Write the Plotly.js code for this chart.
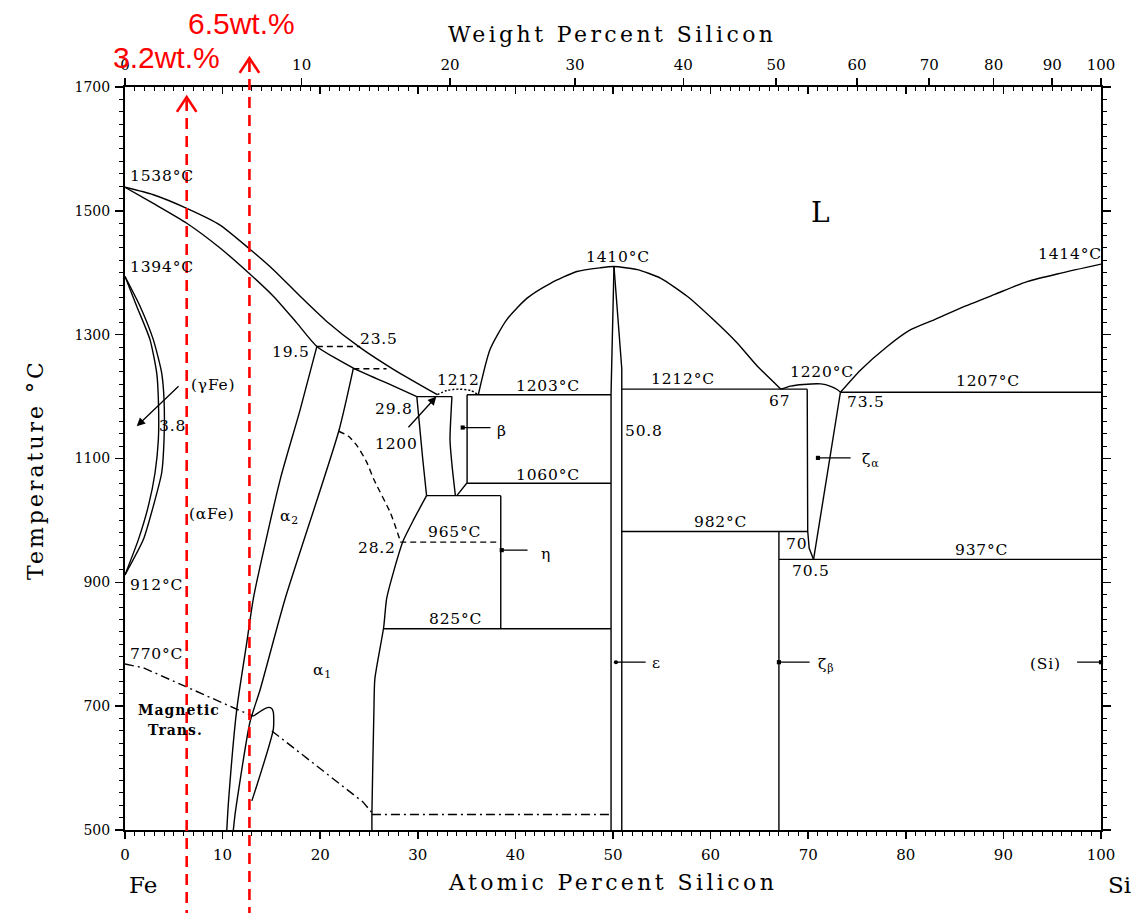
<!DOCTYPE html>
<html><head><meta charset="utf-8">
<script src="https://cdn.plot.ly/plotly-3.0.1.min.js"></script>
<style>body{margin:0;background:#fff}</style>
</head><body>
<div id="chart" style="width:1133px;height:913px"></div>
<script>
// ---------------- data (atomic % Si, temperature °C) ----------------
const liqFeX = [0, 2.9, 6.33, 9.74, 12.65, 15.2, 17.95, 20.7, 24.1, 27.5, 32.0];
const liqFeT = [1538, 1526, 1504, 1477, 1440, 1405, 1362, 1321, 1279, 1244, 1203];
const solFeX = [0, 2.9, 6.33, 9.74, 12.65, 15.2, 17.6, 19.66, 23.4, 26.8, 29.9];
const solFeT = [1538, 1512, 1480, 1440, 1400, 1362, 1319, 1281, 1246, 1222, 1200];
const tie1X = [19.66, 24.1], tie1T = [1281, 1281];
const tie2X = [23.4, 26.8], tie2T = [1245, 1245];
const a2LeftX = [19.66, 17.95, 15.9, 13.2, 12.48, 11.46, 10.6, 10.43];
const a2LeftT = [1281, 1179, 1066, 878, 803, 696, 545, 500];
const a2RightX = [23.4, 21.9, 16.4, 13.85, 12.8, 11.3, 11.1];
const a2RightT = [1246, 1144, 873, 727, 674, 528, 500];
const orderX = [21.9, 22.9, 23.8, 24.8, 25.5, 27.2, 28.2];
const orderT = [1144, 1136, 1120, 1093, 1066, 1012, 967];
const box1200X = [29.9, 33.5], box1200T = [1200, 1200];
const a2EdgeX = [29.9, 30.1, 30.5, 30.9], a2EdgeT = [1200, 1163, 1100, 1040];
const line1040X = [30.9, 38.5], line1040T = [1040, 1040];
const a1EdgeX = [30.9, 29.6, 28.5, 27.5, 26.8, 26.5, 25.6, 25.5, 25.3, 25.3];
const a1EdgeT = [1040, 1002, 967, 916, 873, 827, 744, 690, 528, 500];
const betaLX = [33.5, 33.3, 33.5, 33.85], betaLT = [1200, 1130, 1090, 1040];
const betaRX = [35.05, 35.05, 34.0], betaRT = [1203, 1061, 1040];
const line1203X = [35.05, 49.8], line1203T = [1203, 1203];
const line1060X = [35.05, 49.8], line1060T = [1060, 1060];
const dome1212X = [32.0, 33.0, 34.2, 35.4, 36.2], dome1212T = [1203, 1210, 1212, 1210, 1203];
const etaX = [38.5, 38.5], etaT = [1040, 825];
const line965X = [28.2, 38.5], line965T = [965, 965];
const line825X = [26.5, 49.8], line825T = [825, 825];
const line525X = [25.3, 49.8], line525T = [525, 525];
const feSiLiqX = [36.2, 37.4, 39.1, 41.2, 43.6, 46.3, 48.7, 50.1, 52.5, 54.9, 57.6, 60.3, 62.7, 64.8, 67.2];
const feSiLiqT = [1203, 1276, 1324, 1359, 1383, 1402, 1408, 1410, 1405, 1391, 1362, 1324, 1287, 1249, 1212];
const epsLX = [50.1, 49.8, 49.8], epsLT = [1410, 1205, 500];
const epsRX = [50.1, 50.9, 50.9], epsRT = [1410, 1245, 500];
const line1212X = [50.9, 69.9], line1212T = [1212, 1212];
const zetaALX = [69.9, 69.95, 70.1, 70.55], zetaALT = [1212, 983, 955, 937];
const zetaARX = [73.3, 70.55], zetaART = [1207, 937];
const line982X = [50.9, 69.95], line982T = [982, 982];
const zetaBX = [67.0, 67.0], zetaBT = [982, 500];
const line937X = [67.0, 100], line937T = [937, 937];
const dome1220X = [67.2, 68.2, 69.5, 71.3, 72.3, 73.0, 73.3];
const dome1220T = [1212, 1217, 1219.6, 1220.5, 1216.6, 1211, 1207];
const liqSiX = [73.3, 75.4, 78.1, 80.5, 82.9, 85.6, 89.1, 92.5, 95.9, 100];
const liqSiT = [1207, 1243.5, 1281, 1308, 1324, 1343, 1365, 1386, 1399.5, 1414];
const line1207X = [73.3, 100], line1207T = [1207, 1207];
const gammaT = [1394, 1346, 1292, 1238, 1195, 1131, 1077, 1023, 969, 912];
const gammaOuterX = [0, 1.54, 2.9, 3.76, 4.0, 4.0, 3.76, 2.9, 1.88, 0];
const gammaInnerX = [0, 1.2, 2.56, 3.25, 3.42, 3.42, 3.08, 2.39, 1.37, 0];
const mag1X = [0, 1.88, 11.46, 13.15], mag1T = [768, 762, 695, 684];
const mag2X = [15.05, 24.4, 25.3], mag2T = [660, 545, 528];
const tongueX = [13.15, 14.2, 14.7, 15.05, 15.2, 15.2, 13.0];
const tongueT = [684, 695, 698, 696, 690, 663, 547];

// weight-percent scale (top axis): label and its atomic-% position
const wtTickText = ['0', '10', '20', '30', '40', '50', '60', '70', '80', '90', '100'];
const wtTickAt = [0, 18.1, 33.3, 46.1, 57.2, 66.7, 75.0, 82.4, 89.0, 95.0, 100];

// red composition markers (atomic % for 3.2 and 6.5 wt.%)
const markerLabels = ['3.2wt.%', '6.5wt.%'];
const markerAt = [6.32, 12.75];

// text labels: [text, at%, °C, anchor]
const labels = [
  ['1538°C', 0.3, 1556, 'left'], ['1394°C', 0.3, 1410, 'left'], ['912°C', 0.3, 895, 'left'],
  ['770°C', 0.3, 784, 'left'], ['(γFe)', 9.0, 1219], ['3.8', 4.9, 1152], ['(αFe)', 8.9, 1010],
  ['α<sub>2</sub>', 16.9, 1005], ['α<sub>1</sub>', 20.2, 756], ['19.5', 17.0, 1272],
  ['23.5', 26.0, 1293], ['1212', 34.2, 1227], ['29.8', 27.6, 1180], ['1200', 27.8, 1123],
  ['1203°C', 43.3, 1217], ['1060°C', 43.3, 1074], ['965°C', 33.8, 981], ['28.2', 25.8, 956],
  ['825°C', 33.9, 841], ['1410°C', 50.5, 1425], ['1212°C', 57.2, 1228], ['50.8', 53.2, 1144],
  ['982°C', 61.0, 998], ['67', 67.1, 1193], ['1220°C', 71.4, 1240], ['73.5', 75.9, 1191],
  ['1207°C', 88.4, 1225], ['1414°C', 96.8, 1430], ['70', 68.8, 962], ['70.5', 70.3, 919],
  ['937°C', 87.8, 952], ['ε', 54.5, 769], ['ζ<sub>β</sub>', 71.8, 766], ['(Si)', 94.3, 768],
  ['ζ<sub>α</sub>', 76.4, 1098], ['η', 43.1, 945], ['β', 38.6, 1145]
];
// pointer arrows: [head at%, head °C, tail at%, tail °C, head style]
const pointers = [
  [1.2, 1152, 5.64, 1219, 2], [31.9, 1200, 28.9, 1148, 2],
  [34.6, 1150, 37.6, 1150, 7], [38.6, 952, 41.4, 952, 7],
  [71.0, 1101, 74.5, 1101, 7], [50.3, 771, 53.5, 771, 6],
  [67.0, 771, 70.3, 771, 7], [100, 771, 97.4, 771, 7]
];

// ---------------- drawing ----------------
const traces = [];
function addLine(x, y, dash, spline) {
  traces.push({
    x: x, y: y, type: 'scatter', mode: 'lines', hoverinfo: 'skip',
    line: { color: '#000', width: 1.4, dash: dash || 'solid', shape: spline ? 'spline' : 'linear', smoothing: 0.6 }
  });
}
const DASH = '6px,4px', DASHDOT = '9px,4px,2px,4px', DOT = '2px,2px';
addLine(liqFeX, liqFeT, null, true);
addLine(solFeX, solFeT, null, true);
addLine(tie1X, tie1T, DASH);
addLine(tie2X, tie2T, DASH);
addLine(a2LeftX, a2LeftT, null, true);
addLine(a2RightX, a2RightT, null, true);
addLine(orderX, orderT, DASH, true);
addLine(box1200X, box1200T);
addLine(a2EdgeX, a2EdgeT);
addLine(line1040X, line1040T);
addLine(a1EdgeX, a1EdgeT, null, true);
addLine(betaLX, betaLT, null, true);
addLine(betaRX, betaRT);
addLine(line1203X, line1203T);
addLine(line1060X, line1060T);
addLine(dome1212X, dome1212T, DOT, true);
addLine(etaX, etaT);
addLine(line965X, line965T, DASH);
addLine(line825X, line825T);
addLine(line525X, line525T, DASHDOT);
addLine(feSiLiqX, feSiLiqT, null, true);
addLine(epsLX, epsLT);
addLine(epsRX, epsRT);
addLine(line1212X, line1212T);
addLine(zetaALX, zetaALT);
addLine(zetaARX, zetaART);
addLine(line982X, line982T);
addLine(zetaBX, zetaBT);
addLine(line937X, line937T);
addLine(dome1220X, dome1220T, null, true);
addLine(liqSiX, liqSiT, null, true);
addLine(line1207X, line1207T);
addLine(gammaOuterX, gammaT, null, true);
addLine(gammaInnerX, gammaT, null, true);
addLine(mag1X, mag1T, DASHDOT);
addLine(mag2X, mag2T, DASHDOT);
addLine(tongueX, tongueT, null, true);
// placeholders so the overlaid top axes are drawn
traces.push({ x: [null], y: [null], xaxis: 'x2', type: 'scatter', mode: 'none', hoverinfo: 'skip' });
traces.push({ x: [null], y: [null], xaxis: 'x3', type: 'scatter', mode: 'none', hoverinfo: 'skip' });

const SERIF = 'DejaVu Serif';
function spaced(t, s) { return '<span style="letter-spacing:' + s + 'px">' + t + '</span>'; }
const annotations = [];
labels.forEach(function (l) {
  annotations.push({
    text: spaced(l[0], 0.8), x: l[1], y: l[2], xref: 'x', yref: 'y', showarrow: false,
    xanchor: l[3] || 'center', yanchor: 'middle',
    font: { family: SERIF, size: 15.5, color: '#000' }
  });
});
pointers.forEach(function (p) {
  annotations.push({
    text: '', x: p[0], y: p[1], ax: p[2], ay: p[3], xref: 'x', yref: 'y', axref: 'x', ayref: 'y',
    showarrow: true, arrowhead: p[4], arrowsize: p[4] === 2 ? 1.3 : 0.8, arrowwidth: 1.3, arrowcolor: '#000', standoff: 0
  });
});
function paperText(text, x, y, font, extra) {
  const a = { text: text, xref: 'paper', yref: 'paper', x: x, y: y, xanchor: 'center', yanchor: 'middle',
    showarrow: false, font: font };
  if (extra) Object.assign(a, extra);
  annotations.push(a);
}
annotations.push({ text: 'L', x: 71.3, y: 1497, xref: 'x', yref: 'y', showarrow: false, xanchor: 'center', yanchor: 'middle',
  font: { family: SERIF, size: 28, color: '#000' } });
annotations.push({ text: spaced('Magnetic', 1), x: 5.5, y: 694, xref: 'x', yref: 'y', showarrow: false, xanchor: 'center', yanchor: 'middle',
  font: { family: SERIF, size: 14, color: '#000', weight: 'bold' } });
annotations.push({ text: spaced('Trans.', 1), x: 5.2, y: 662, xref: 'x', yref: 'y', showarrow: false, xanchor: 'center', yanchor: 'middle',
  font: { family: SERIF, size: 14, color: '#000', weight: 'bold' } });
// axis titles
const titleFont = { family: SERIF, size: 22, color: '#000' };
paperText(spaced('Weight Percent Silicon', 3.4), 0.499, 1.070, titleFont);
paperText(spaced('Atomic Percent Silicon', 3.4), 0.499, -0.0713, titleFont);
paperText(spaced('Temperature °C', 3), -0.0922, 0.4845, titleFont, { textangle: -90 });
paperText('Fe', 0.0184, -0.074, { family: SERIF, size: 23, color: '#000' });
paperText('Si', 1.019, -0.074, { family: SERIF, size: 23, color: '#000' });
// red marker labels
const redFont = { family: 'Liberation Sans', size: 30, color: '#ff0000' };
paperText(markerLabels[0], 0.0430, 1.0397, redFont);
paperText(markerLabels[1], 0.1189, 1.0848, redFont);

// red dashed composition lines with chevron heads
const tips = [0.9865, 1.039];
const shapes = [];
markerAt.forEach(function (xv, i) {
  shapes.push({ type: 'line', xref: 'x', yref: 'paper', x0: xv, x1: xv, y0: tips[i] - 0.004, y1: -0.12,
    line: { color: '#ff0000', width: 2.6, dash: '11px,7px' } });
  shapes.push({ type: 'path', xref: 'x', yref: 'paper',
    path: 'M ' + (xv - 1.0) + ',' + (tips[i] - 0.02) + ' L ' + xv + ',' + tips[i] + ' L ' + (xv + 1.0) + ',' + (tips[i] - 0.02),
    line: { color: '#ff0000', width: 2.6 } });
});

const xTickFont = { family: SERIF, size: 15, color: '#000' };
const yTickFont = { family: SERIF, size: 14, color: '#000' };
const layout = {
  width: 1133, height: 913, margin: { l: 125, r: 32, t: 87, b: 83 },
  paper_bgcolor: '#fff', plot_bgcolor: '#fff', showlegend: false,
  xaxis: { range: [0, 100], tick0: 0, dtick: 10, ticks: 'outside', ticklen: 7, tickwidth: 1.5, tickcolor: '#000',
    minor: { dtick: 1, ticks: 'outside', ticklen: 4, tickwidth: 1, tickcolor: '#000' },
    showline: true, linewidth: 2, linecolor: '#000', showgrid: false, zeroline: false, mirror: false,
    tickfont: xTickFont, ticklabelstandoff: 3 },
  xaxis2: { overlaying: 'x', anchor: 'y', side: 'top', range: [0, 100], tickmode: 'array',
    tickvals: wtTickAt, ticktext: wtTickText, ticks: 'outside', ticklen: 8, tickwidth: 1.5, tickcolor: '#000',
    showline: false, showgrid: false, zeroline: false, tickfont: xTickFont, ticklabelstandoff: 2 },
  xaxis3: { overlaying: 'x', anchor: 'y', side: 'top', range: [0, 100], tick0: 0, dtick: 10, ticks: 'inside',
    ticklen: 7, tickwidth: 1.5, tickcolor: '#000',
    minor: { dtick: 1, ticks: 'inside', ticklen: 4, tickwidth: 1, tickcolor: '#000' },
    showticklabels: false, showline: true, linewidth: 2, linecolor: '#000', showgrid: false, zeroline: false },
  yaxis: { range: [500, 1700], tick0: 500, dtick: 200, ticks: 'outside', ticklen: 8, tickwidth: 1.5, tickcolor: '#000',
    minor: { dtick: 20, ticks: 'outside', ticklen: 4, tickwidth: 1, tickcolor: '#000' },
    mirror: 'ticks', showline: true, linewidth: 2, linecolor: '#000', showgrid: false, zeroline: false,
    tickfont: yTickFont, ticklabelstandoff: 2 },
  annotations: annotations, shapes: shapes
};
Plotly.newPlot('chart', traces, layout, { displayModeBar: false, staticPlot: true });
</script>
</body></html>
